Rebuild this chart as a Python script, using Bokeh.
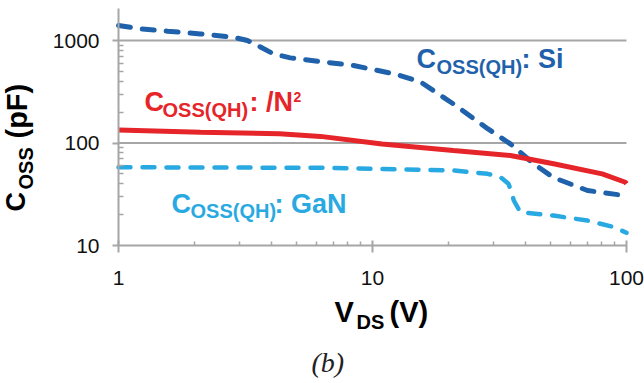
import math
from bokeh.plotting import figure
from bokeh.models import Range1d, FixedTicker, Label, PrintfTickFormatter
from bokeh.embed import file_html
from bokeh.resources import INLINE

# ---- data ----
si_v = [1, 1.22, 1.56, 2.1, 2.83, 3.22, 3.53, 4.07, 4.75, 6.24, 8.42, 12.5, 15.5, 20.8, 28.4, 34.9, 43, 51.6, 70.2, 97.3, 100]
si_c = [1400, 1300, 1232, 1160, 1077, 1000, 893, 741, 677, 623, 570, 466, 392, 241, 138, 98, 63, 46, 34.4, 30.8, 30.6]

n2_v = [1, 2.1, 4.3, 6.24, 10.9, 20.8, 34.9, 51.6, 80.2, 99, 100]
n2_c = [134, 127, 123, 116, 98, 84.5, 75.5, 62.7, 50, 41.4, 40]

gan_v = [1, 6.24, 20.8, 28.4, 31.9, 34.3, 35.3, 36.0, 38.2, 51.6, 70.2, 89.3, 100]
gan_c = [58, 57.3, 54, 50, 46.4, 40, 33, 27.5, 21.1, 19.6, 17.5, 15.1, 13.3]

x_ticks = [1, 10, 100]
y_ticks = [10, 100, 1000]
x_minor = [2, 3, 4, 5, 6, 7, 8, 9, 20, 30, 40, 50, 60, 70, 80, 90]
y_minor = [20, 30, 40, 50, 60, 70, 80, 90, 200, 300, 400, 500, 600, 700, 800, 900]
y_axis_top = 2050

SI = "#1f62ab"
RED = "#e5252a"
GAN = "#29a9e1"
GRAY = "#a6a6a6"
FONT = "Liberation Sans"

W, H = 644, 383
# plot box inside the canvas (canvas pixels)
LEFT, RIGHT, BOTTOM, TOP_MAJOR = 118, 626, 245, 40
px_per_dec_x = (RIGHT - LEFT) / math.log10(x_ticks[-1] / x_ticks[0])
px_per_dec_y = (BOTTOM - TOP_MAJOR) / math.log10(y_ticks[-1] / y_ticks[0])

x_lo = x_ticks[0] * 10 ** (-LEFT / px_per_dec_x)
x_hi = x_ticks[-1] * 10 ** ((W - RIGHT) / px_per_dec_x)
y_lo = y_ticks[0] * 10 ** (-(H - BOTTOM) / px_per_dec_y)
y_hi = y_ticks[0] * 10 ** (BOTTOM / px_per_dec_y)

p = figure(width=W, height=H, x_axis_type="log", y_axis_type="log",
           x_range=Range1d(x_lo, x_hi), y_range=Range1d(y_lo, y_hi),
           output_backend="svg", toolbar_location=None,
           min_border=0, min_border_left=0, min_border_right=0,
           min_border_top=0, min_border_bottom=0)
p.outline_line_color = None
p.background_fill_color = "white"
p.border_fill_color = "white"
p.xgrid.visible = False
p.ygrid.visible = False

# grid lines across the plot box at the major y ticks above the x axis
gy = y_ticks[1:]
p.segment(x0=[x_ticks[0]] * len(gy), x1=[x_ticks[-1]] * len(gy), y0=gy, y1=gy,
          line_color=GRAY, line_width=2)

p.line(si_v, si_c, line_color=SI, line_width=5, line_dash="12 12", line_cap="round")
p.line(gan_v, gan_c, line_color=GAN, line_width=4.5, line_dash="12 12", line_cap="round")
p.line(n2_v, n2_c, line_color=RED, line_width=5)

p.xaxis.fixed_location = y_ticks[0]
p.yaxis.fixed_location = x_ticks[0]
p.xaxis.bounds = (x_ticks[0], x_ticks[-1])
p.yaxis.bounds = (y_ticks[0], y_axis_top)
p.xaxis.ticker = FixedTicker(ticks=x_ticks, minor_ticks=x_minor)
p.yaxis.ticker = FixedTicker(ticks=y_ticks, minor_ticks=y_minor)

for ax in (p.xaxis, p.yaxis):
    ax.formatter = PrintfTickFormatter(format="%d")
    ax.axis_line_color = GRAY
    ax.axis_line_width = 2
    ax.major_tick_line_color = GRAY
    ax.major_tick_line_width = 2
    ax.minor_tick_line_color = GRAY
    ax.minor_tick_line_width = 1.5
    ax.major_label_text_font = FONT
    ax.major_label_text_font_size = "21px"
    ax.major_label_text_color = "#111111"

p.yaxis.major_tick_out = 6
p.yaxis.major_tick_in = 0
p.yaxis.minor_tick_in = 5
p.yaxis.minor_tick_out = 0
p.yaxis.major_label_standoff = 13
p.xaxis.major_tick_in = 5
p.xaxis.major_tick_out = 7
p.xaxis.minor_tick_in = 4
p.xaxis.minor_tick_out = 0
p.xaxis.major_label_standoff = 18


def dx(px):
    # canvas pixel -> data x
    return x_ticks[0] * 10 ** ((px - LEFT) / px_per_dec_x)


def dy(py):
    # canvas pixel -> data y
    return y_ticks[0] * 10 ** ((BOTTOM - py) / px_per_dec_y)


SHIFT = 0.34  # anchor correction (fraction of font size) so px/py is the baseline


def lab(px, py, text, size, color, style="bold", font=FONT, rotated=False):
    if rotated:
        ax_, ay_ = px - SHIFT * size, py
    else:
        ax_, ay_ = px, py - SHIFT * size
    p.add_layout(Label(x=dx(ax_), y=dy(ay_), text=text, text_font=font,
                       text_font_size=f"{size}px", text_font_style=style,
                       text_color=color, text_align="left", text_baseline="alphabetic",
                       angle=math.pi / 2 if rotated else 0))


# series labels
lab(416, 68, "C", 27, SI)
lab(436, 73, "OSS(QH)", 20, SI)
lab(521, 68, ": Si", 27, SI)

lab(144, 111, "C", 27, RED)
lab(162, 116, "OSS(QH)", 20, RED)
lab(249, 111, ": /N", 27, RED)
lab(293, 101, "2", 14, RED)

lab(171, 213, "C", 27, GAN)
lab(190, 217, "OSS(QH)", 20, GAN)
lab(274, 213, ": GaN", 27, GAN)

# y title (rotated, reads bottom to top)
lab(25, 211, "C", 27, "black", rotated=True)
lab(32, 189, "OSS", 20, "black", rotated=True)
lab(26, 138, "(pF)", 29, "black", rotated=True)

# x title
lab(334, 321, "V", 29, "black")
lab(356, 328, "DS", 20, "black")
lab(389, 321, "(V)", 29, "black")

# panel tag
lab(311, 372, "(b)", 28, "#222222", style="italic", font="Liberation Serif")

open("out.html", "w").write(file_html(p, INLINE))
